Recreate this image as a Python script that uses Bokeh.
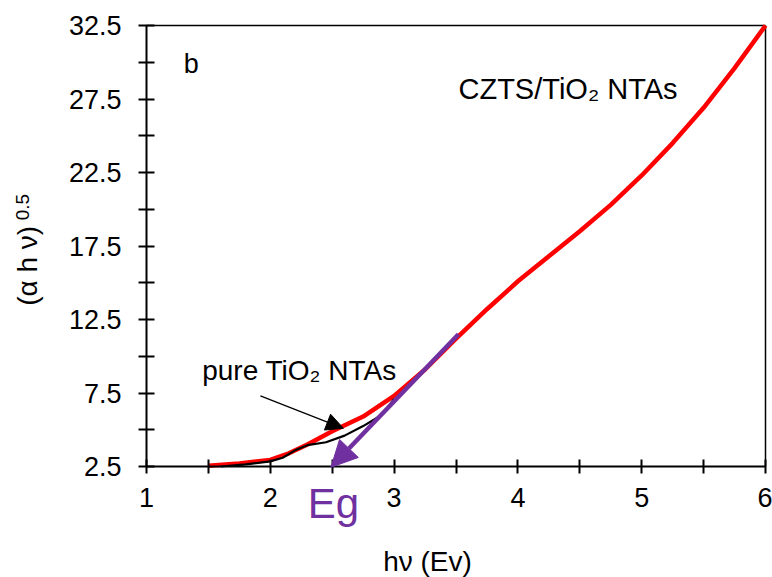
import math
from bokeh.plotting import figure
from bokeh.models import Range1d, FixedTicker, Label, Arrow, NormalHead
from bokeh.embed import file_html
from bokeh.resources import INLINE

# ---- data ----
czts_x = [1.5, 1.75, 2.0, 2.15, 2.3, 2.5, 2.75, 3.0, 3.25, 3.5, 3.75, 4.0,
          4.25, 4.5, 4.75, 5.0, 5.25, 5.5, 5.75, 6.0]
czts_y = [2.55, 2.7, 2.95, 3.4, 4.0, 4.9, 5.9, 7.3, 9.1, 11.2, 13.2, 15.1,
          16.8, 18.5, 20.3, 22.3, 24.5, 26.9, 29.6, 32.5]

tio2_x = [1.6, 1.8, 2.0, 2.1, 2.2, 2.3, 2.45, 2.6, 2.75, 2.9, 3.0]
tio2_y = [2.5, 2.65, 2.85, 3.1, 3.6, 3.95, 4.15, 4.6, 5.25, 6.0, 7.1]

x_ticks = [1, 2, 3, 4, 5, 6]
x_minor = [1.5, 2.5, 3.5, 4.5, 5.5]
y_ticks = [2.5, 7.5, 12.5, 17.5, 22.5, 27.5, 32.5]
y_minor = [5, 10, 15, 20, 25, 30]

XMIN, XMAX = 1.0, 6.0
YMIN, YMAX = 2.5, 32.5

eg_start = (3.52, 11.5)
eg_end = (2.49, 2.45)
ptr_start = (1.92, 7.3)
ptr_end = (2.59, 5.1)

FONT = "Liberation Sans"
PURPLE = "#7030A0"

# ---- layout: frame spans the whole canvas, axes are pinned at the plot box ----
W, H = 772, 577
BOX_L, BOX_R, BOX_T, BOX_B = 146, 765, 25, 466
sx = (BOX_R - BOX_L) / (XMAX - XMIN)
sy = (BOX_B - BOX_T) / (YMAX - YMIN)
xr = Range1d(XMIN - BOX_L / sx, XMAX + (W - BOX_R) / sx)
yr = Range1d(YMIN - (H - BOX_B) / sy, YMAX + BOX_T / sy)

p = figure(width=W, height=H, output_backend="svg", toolbar_location=None,
           x_range=xr, y_range=yr, min_border=0)
p.background_fill_color = "white"
p.border_fill_color = "white"
p.outline_line_color = None
p.xgrid.visible = False
p.ygrid.visible = False

xa = p.xaxis[0]
ya = p.yaxis[0]
xa.fixed_location = YMIN
ya.fixed_location = XMIN
xa.bounds = (XMIN, XMAX)
ya.bounds = (YMIN, YMAX)

for ax, tk, mn in ((xa, x_ticks, x_minor), (ya, y_ticks, y_minor)):
    ax.ticker = FixedTicker(ticks=tk, minor_ticks=mn)
    ax.axis_line_width = 2
    ax.axis_line_color = "black"
    ax.major_tick_line_width = 2
    ax.minor_tick_line_width = 2
    ax.major_tick_line_color = "black"
    ax.minor_tick_line_color = "black"
    ax.major_label_text_font = FONT
    ax.major_label_text_font_size = "27px"
    ax.major_label_text_color = "black"

xa.major_tick_in = 7
xa.major_tick_out = 7
xa.minor_tick_in = 7
xa.minor_tick_out = 7
xa.major_label_standoff = 14
ya.major_tick_in = 8
ya.major_tick_out = 8
ya.minor_tick_in = 8
ya.minor_tick_out = 8
ya.major_label_standoff = 17

# top and right edges of the plot box
p.segment(x0=[XMIN, XMAX], y0=[YMAX, YMIN], x1=[XMAX, XMAX], y1=[YMAX, YMAX],
          line_color="black", line_width=1.5)

# curves
p.line(czts_x, czts_y, line_color="#FF0000", line_width=4.5, line_join="round")
p.line(tio2_x, tio2_y, line_color="black", line_width=2.2, line_join="round")

# purple Eg arrow
p.add_layout(Arrow(end=NormalHead(size=26, fill_color=PURPLE, line_color=PURPLE),
                   x_start=eg_start[0], y_start=eg_start[1],
                   x_end=eg_end[0], y_end=eg_end[1],
                   line_color=PURPLE, line_width=4.5))
# black pointer arrow
p.add_layout(Arrow(end=NormalHead(size=17, fill_color="black", line_color="black"),
                   x_start=ptr_start[0], y_start=ptr_start[1],
                   x_end=ptr_end[0], y_end=ptr_end[1],
                   line_color="black", line_width=1.3))

def lab(x, y, text, size, color="black", align="left", baseline="middle", angle=0.0):
    p.add_layout(Label(x=x, y=y, text=text, text_font=FONT, text_font_size=size,
                       text_color=color, text_align=align, text_baseline=baseline,
                       angle=angle))

lab(1.30, 29.9, "b", "27px")
lab(3.52, 28.2, "CZTS/TiO\u2082 NTAs", "29px")
lab(1.45, 9.0, "pure TiO\u2082 NTAs", "28px")
lab(2.51, -0.05, "Eg", "42px", color=PURPLE, align="center")
lab(3.27, -3.96, "h\u03bd (Ev)", "28px", align="center")
lab(0.04, 16.15, "(\u03b1 h \u03bd)", "28px", align="center", angle=math.pi / 2)
lab(-0.005, 20.15, "0.5", "19px", align="center", angle=math.pi / 2)

open("out.html", "w").write(file_html(p, INLINE))
